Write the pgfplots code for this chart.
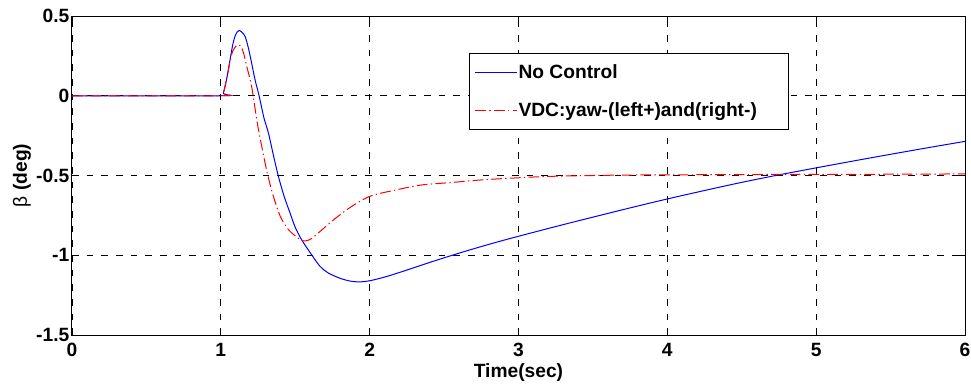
\documentclass[border=0pt]{standalone}
\usepackage{pgfplots}
\pgfplotsset{compat=1.18}
\usepackage{fontspec}
\setmainfont{Liberation Sans}
\newcommand{\lbl}{\bfseries\fontsize{14.4}{16}\selectfont}
\begin{document}
\begin{tikzpicture}
\begin{axis}[
  scale only axis,
  width=669.75pt, height=239.25pt,
  xmin=0, xmax=6, ymin=-1.5, ymax=0.5,
  xtick={0,1,2,3,4,5,6},
  ytick={-1.5,-1,-0.5,0,0.5},
  yticklabels={-1.5,-1,-0.5,0,0.5},
  /pgf/number format/assume math mode=true,
  tick label style={font=\lbl},
  xticklabel style={yshift=-2.5pt},
  yticklabel style={xshift=1.5pt},
  tick align=inside,
  major tick length=5pt,
  axis line style={line width=0.75pt},
  every tick/.style={black, line width=0.6pt},
  grid=major,
  major grid style={black, line width=0.6pt, dash pattern=on 5pt off 6pt},
  xlabel={Time(sec)},
  ylabel={{\mdseries β} (deg)},
  label style={font=\lbl},
  xlabel style={at={(axis description cs:0.5,-0.119)}, anchor=center},
  ylabel style={at={(axis description cs:-0.056,0.5)}, anchor=center},
  legend cell align=left,
  legend style={at={(axis description cs:0.4446,0.884)}, anchor=north west,
    line width=0.75pt, fill=white, font=\lbl,
    row sep=15pt, inner xsep=4pt, inner ysep=7pt,
    nodes={inner sep=1pt}},
  legend image code/.code={\draw[#1] (0pt,0pt) -- (31pt,0pt);},
]
\addplot[draw=blue, line width=0.75pt, smooth] coordinates {
(0,0) (1.0,0) (1.017,0.017) (1.04,0.11) (1.062,0.226) (1.08,0.32) (1.095,0.372) (1.11,0.40) (1.124,0.41) (1.14,0.40) (1.163,0.372) (1.185,0.30) (1.207,0.205) (1.23,0.10) (1.257,0) (1.29,-0.14) (1.32,-0.234) (1.355,-0.38) (1.387,-0.506) (1.425,-0.63) (1.465,-0.735) (1.50,-0.825) (1.543,-0.903) (1.61,-0.997) (1.667,-1.07) (1.72,-1.11) (1.80,-1.144) (1.87,-1.162) (1.935,-1.167) (2.0,-1.16) (2.1,-1.137) (2.2,-1.108) (2.3,-1.077) (2.4,-1.046) (2.5,-1.016) (2.6,-0.987) (2.7,-0.959) (2.8,-0.932) (2.9,-0.906) (3.0,-0.881) (3.25,-0.820) (3.5,-0.761) (3.75,-0.703) (4.0,-0.647) (4.25,-0.594) (4.5,-0.543) (4.75,-0.496) (5.0,-0.452) (5.25,-0.409) (5.5,-0.367) (5.75,-0.326) (6.0,-0.286)
};
\addlegendentry{No Control}
\addplot[draw=red, line width=0.75pt, smooth, dash pattern=on 8pt off 2.5pt on 1pt off 2.5pt] coordinates {
(0,0) (1.0,0) (1.017,0.017) (1.04,0.11) (1.073,0.26) (1.10,0.31) (1.12,0.32) (1.136,0.31) (1.155,0.26) (1.174,0.184) (1.207,0.058) (1.245,-0.171) (1.275,-0.318) (1.312,-0.485) (1.353,-0.63) (1.40,-0.757) (1.455,-0.84) (1.53,-0.90) (1.57,-0.91) (1.61,-0.895) (1.655,-0.86) (1.755,-0.78) (1.846,-0.715) (1.92,-0.67) (2.0,-0.631) (2.08,-0.61) (2.16,-0.594) (2.26,-0.574) (2.36,-0.558) (2.56,-0.543) (2.76,-0.527) (2.965,-0.516) (3.19,-0.506) (3.5,-0.5) (3.75,-0.497) (4.0,-0.496) (4.5,-0.494) (5.0,-0.493) (5.5,-0.492) (6.0,-0.49)
};
\addlegendentry{VDC:yaw-(left+)and(right-)\rule{19pt}{0pt}}
\end{axis}
\pgfresetboundingbox
\path[use as bounding box] (-54pt,-39pt) rectangle (674.25pt,251.25pt);
\end{tikzpicture}
\end{document}
